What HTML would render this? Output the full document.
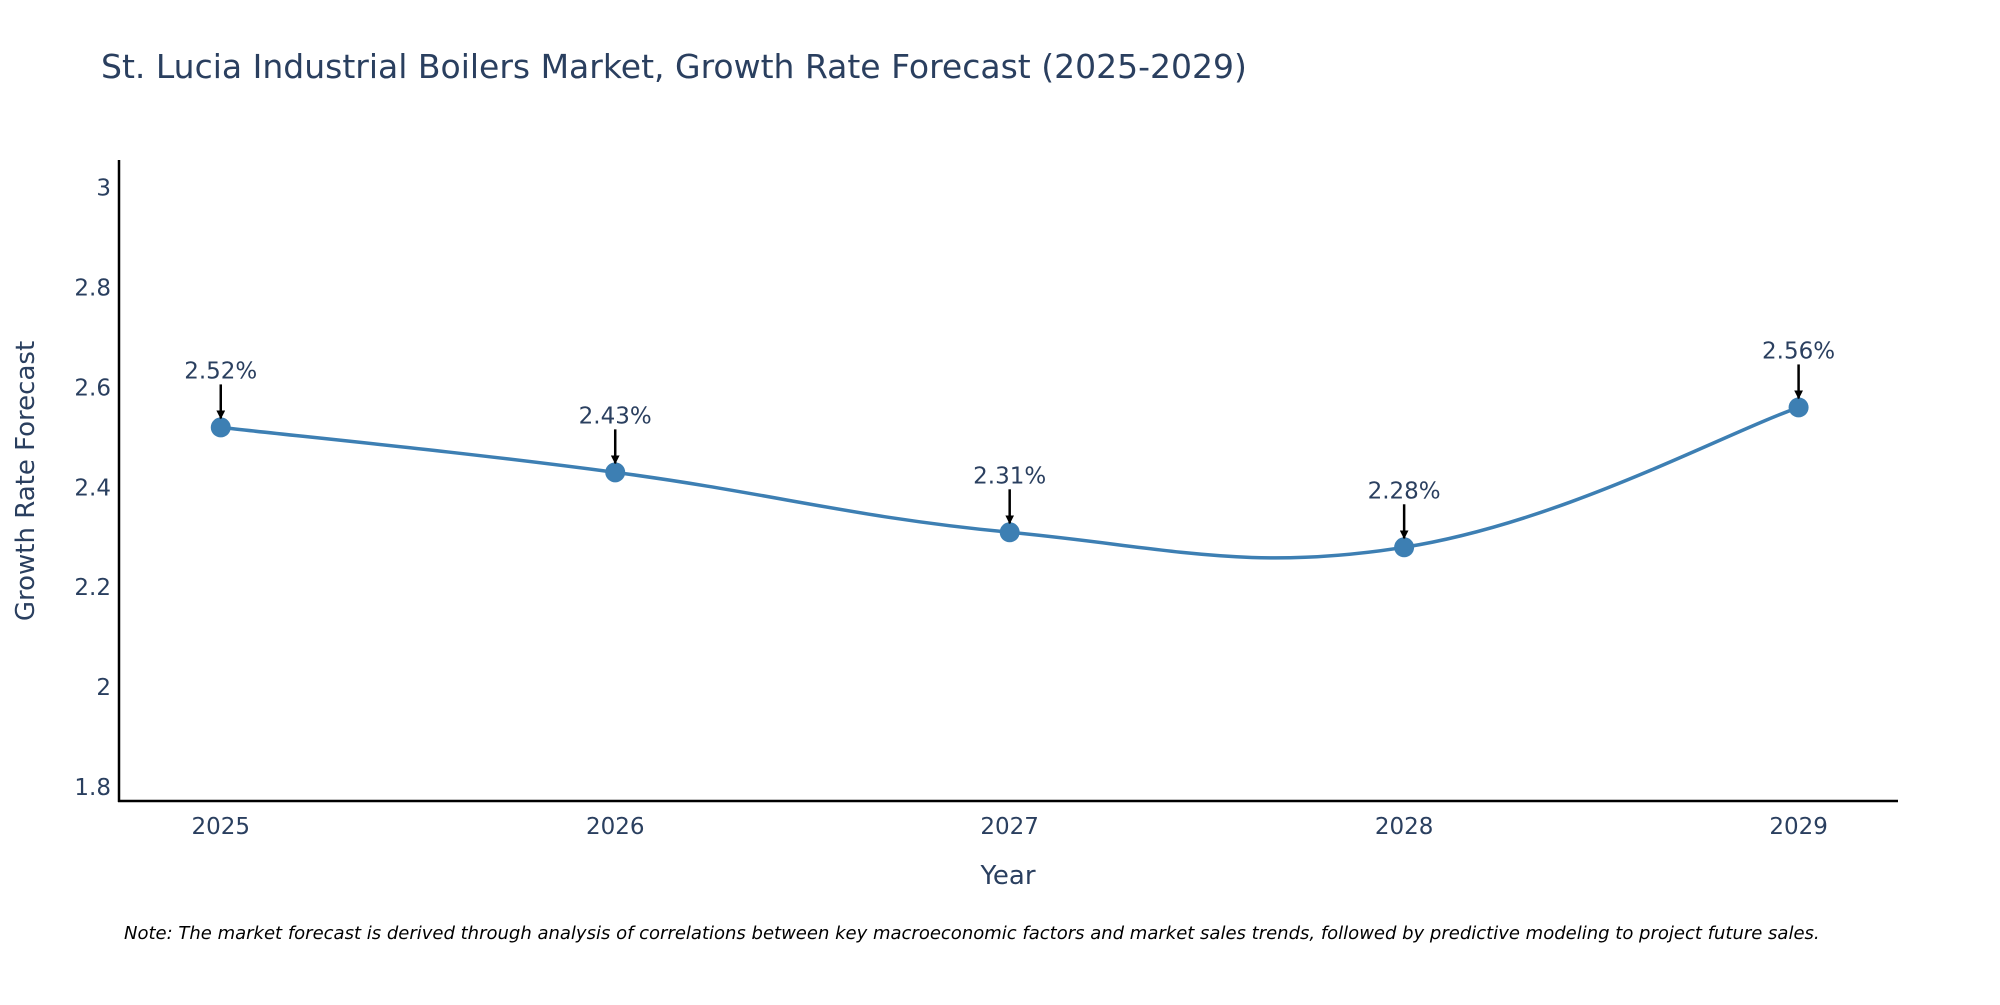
<!DOCTYPE html>
<html><head><meta charset="utf-8"><style>
body{margin:0;background:#fff;}
svg text{font-family:"DejaVu Sans","Liberation Sans",sans-serif;fill:#2a3f5f;}
</style></head><body>
<svg id="chart" width="2000" height="1000" viewBox="0 0 2000 1000" xmlns="http://www.w3.org/2000/svg">
<text x="101" y="78" font-size="33">St. Lucia Industrial Boilers Market, Growth Rate Forecast (2025-2029)</text>
<g id="yticks"></g>
<g id="xticks"></g>
<line x1="119" y1="160" x2="119" y2="802" stroke="#000" stroke-width="2.5"/>
<line x1="118" y1="801" x2="1898" y2="801" stroke="#000" stroke-width="2.5"/>
<text transform="translate(34,481) rotate(-90)" text-anchor="middle" font-size="26">Growth Rate Forecast</text>
<text x="1008" y="884" text-anchor="middle" font-size="26">Year</text>
<g id="series"></g>
<g id="annots"></g>
<text x="124" y="939" font-size="18" font-style="italic" style="fill:#000">Note: The market forecast is derived through analysis of correlations between key macroeconomic factors and market sales trends, followed by predictive modeling to project future sales.</text>
<defs><marker id="ah" viewBox="0 0 10 10" refX="9" refY="5" markerWidth="3.5" markerHeight="3.5" orient="auto"><path d="M0,0 L10,5 L0,10 z" fill="#000"/></marker></defs>
</svg>
<script>
const years = [2025, 2026, 2027, 2028, 2029];
const growth = [2.52, 2.43, 2.31, 2.28, 2.56];
const labels = ["2.52%", "2.43%", "2.31%", "2.28%", "2.56%"];
const yTickValues = [1.8, 2, 2.2, 2.4, 2.6, 2.8, 3];
const yTickLabels = ["1.8", "2", "2.2", "2.4", "2.6", "2.8", "3"];

const NS = "http://www.w3.org/2000/svg";
const X0 = 118.6, X1 = 1898, XMIN = 2024.741, XMAX = 2029.252;
const Y0 = 801, Y1 = 160.7, YMIN = 1.772, YMAX = 3.054;
const xs = v => X0 + (v - XMIN) / (XMAX - XMIN) * (X1 - X0);
const ys = v => Y0 - (v - YMIN) / (YMAX - YMIN) * (Y0 - Y1);
function mk(tag, attrs, parent) { const e = document.createElementNS(NS, tag); for (const k in attrs) e.setAttribute(k, attrs[k]); parent.appendChild(e); return e; }

const yt = document.getElementById('yticks');
yTickValues.forEach((v, i) => {
  const t = mk('text', {x: 111, y: ys(v) + 8, 'text-anchor': 'end', 'font-size': 23}, yt);
  
  
  t.textContent = yTickLabels[i];
});
const xt = document.getElementById('xticks');
years.forEach(y => {
  const t = mk('text', {x: xs(y), y: 834, 'text-anchor': 'middle', 'font-size': 23}, xt);
  
  
  t.textContent = String(y);
});

const pts = years.map((y, i) => [xs(y), ys(growth[i])]);
let d = `M${pts[0][0]},${pts[0][1]}`;
const s = 0.2;
for (let i = 0; i < pts.length - 1; i++) {
  const p0 = pts[Math.max(i - 1, 0)], p1 = pts[i], p2 = pts[i + 1], p3 = pts[Math.min(i + 2, pts.length - 1)];
  const c1 = [p1[0] + (p2[0] - p0[0]) * s, p1[1] + (p2[1] - p0[1]) * s];
  const c2 = [p2[0] - (p3[0] - p1[0]) * s, p2[1] - (p3[1] - p1[1]) * s];
  d += ` C${c1[0]},${c1[1]} ${c2[0]},${c2[1]} ${p2[0]},${p2[1]}`;
}
const sg = document.getElementById('series');
const line = mk('path', {d: d, fill: 'none', stroke: '#3d7fb3', 'stroke-width': 3.5}, sg);


pts.forEach(p => {
  const c = mk('circle', {cx: p[0], cy: p[1], r: 10, fill: '#3d7fb3'}, sg);
  
  
});
const ag = document.getElementById('annots');
pts.forEach((p, i) => {
  const a = mk('line', {x1: p[0], y1: p[1] - 43, x2: p[0], y2: p[1] - 9, stroke: '#000', 'stroke-width': 2.5, 'marker-end': 'url(#ah)'}, ag);
  
  
  const t = mk('text', {x: p[0], y: p[1] - 49, 'text-anchor': 'middle', 'font-size': 23}, ag);
  
  
  t.textContent = labels[i];
});
</script>
</body></html>
